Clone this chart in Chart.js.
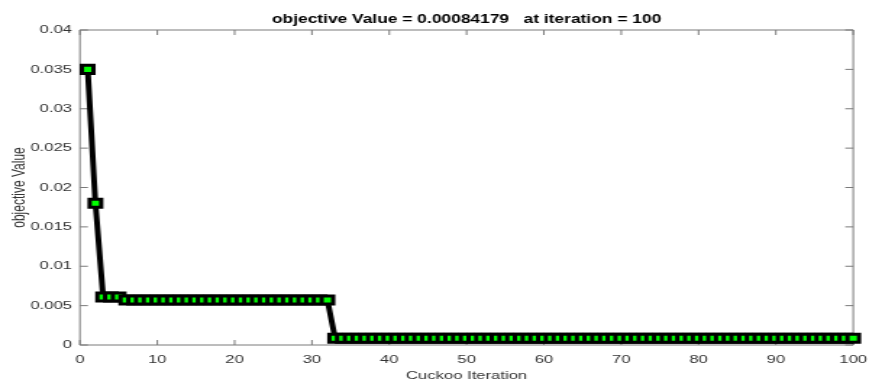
<!DOCTYPE html>
<html>
<head>
<meta charset="utf-8">
<title>Cuckoo search convergence</title>
<script src="https://cdn.jsdelivr.net/npm/chart.js@4.4.1/dist/chart.umd.min.js"></script>
<style>
  html, body { margin: 0; padding: 0; background: #fff; overflow: hidden; }
  /* figure is drawn on a narrower canvas and widened to the window */
  #wrap { width: 600px; height: 383px; transform: scaleX(1.44833); transform-origin: 0 0; }
  canvas { display: block; }
</style>
</head>
<body>
<div id="wrap"><canvas id="chart" width="600" height="383"></canvas></div>
<script>
// Iteration number of each recorded best solution
const iterations = [
  1, 2, 3, 4, 5, 6, 7, 8, 9, 10,
  11, 12, 13, 14, 15, 16, 17, 18, 19, 20,
  21, 22, 23, 24, 25, 26, 27, 28, 29, 30,
  31, 32, 33, 34, 35, 36, 37, 38, 39, 40,
  41, 42, 43, 44, 45, 46, 47, 48, 49, 50,
  51, 52, 53, 54, 55, 56, 57, 58, 59, 60,
  61, 62, 63, 64, 65, 66, 67, 68, 69, 70,
  71, 72, 73, 74, 75, 76, 77, 78, 79, 80,
  81, 82, 83, 84, 85, 86, 87, 88, 89, 90,
  91, 92, 93, 94, 95, 96, 97, 98, 99, 100
];

// Best objective value found so far at each iteration
const objectiveValues = [
  0.035, 0.018, 0.0061, 0.0061, 0.0061, 0.0057, 0.0057, 0.0057, 0.0057, 0.0057,
  0.0057, 0.0057, 0.0057, 0.0057, 0.0057, 0.0057, 0.0057, 0.0057, 0.0057, 0.0057,
  0.0057, 0.0057, 0.0057, 0.0057, 0.0057, 0.0057, 0.0057, 0.0057, 0.0057, 0.0057,
  0.0057, 0.0057, 0.00084179, 0.00084179, 0.00084179, 0.00084179, 0.00084179, 0.00084179, 0.00084179, 0.00084179,
  0.00084179, 0.00084179, 0.00084179, 0.00084179, 0.00084179, 0.00084179, 0.00084179, 0.00084179, 0.00084179, 0.00084179,
  0.00084179, 0.00084179, 0.00084179, 0.00084179, 0.00084179, 0.00084179, 0.00084179, 0.00084179, 0.00084179, 0.00084179,
  0.00084179, 0.00084179, 0.00084179, 0.00084179, 0.00084179, 0.00084179, 0.00084179, 0.00084179, 0.00084179, 0.00084179,
  0.00084179, 0.00084179, 0.00084179, 0.00084179, 0.00084179, 0.00084179, 0.00084179, 0.00084179, 0.00084179, 0.00084179,
  0.00084179, 0.00084179, 0.00084179, 0.00084179, 0.00084179, 0.00084179, 0.00084179, 0.00084179, 0.00084179, 0.00084179,
  0.00084179, 0.00084179, 0.00084179, 0.00084179, 0.00084179, 0.00084179, 0.00084179, 0.00084179, 0.00084179, 0.00084179
];

// Axis tick values
const xTicks = [0, 10, 20, 30, 40, 50, 60, 70, 80, 90, 100];
const yTicks = [0, 0.005, 0.01, 0.015, 0.02, 0.025, 0.03, 0.035, 0.04];

const finalValue = objectiveValues[objectiveValues.length - 1];
const finalIteration = iterations[iterations.length - 1];
const titleText = 'objective Value = ' + finalValue + '   at iteration = ' + finalIteration;
const xTitle = 'Cuckoo Iteration';
const yTitle = 'objective Value';

const FONT = '"Liberation Sans", Arial, Helvetica, sans-serif';
const AXIS_COLOR = '#7a7a7a';
const TEXT_COLOR = '#333333';

const points = iterations.map((it, i) => ({ x: it, y: objectiveValues[i] }));

// Box around the axes with inward tick marks on all four sides
const axesBox = {
  id: 'axesBox',
  beforeDatasetsDraw(chart) {
    const { ctx, chartArea: a, scales: { x, y } } = chart;
    ctx.save();
    ctx.strokeStyle = AXIS_COLOR;
    ctx.lineWidth = 1;
    ctx.beginPath();
    ctx.rect(a.left, a.top, a.right - a.left, a.bottom - a.top);
    xTicks.forEach(v => {
      const px = x.getPixelForValue(v);
      ctx.moveTo(px, a.bottom); ctx.lineTo(px, a.bottom - 5);
      ctx.moveTo(px, a.top); ctx.lineTo(px, a.top + 5);
    });
    yTicks.forEach(v => {
      const py = y.getPixelForValue(v);
      ctx.moveTo(a.left, py); ctx.lineTo(a.left + 5.5, py);
      ctx.moveTo(a.right, py); ctx.lineTo(a.right - 5.5, py);
    });
    ctx.stroke();
    ctx.restore();
  },
  afterDraw(chart) {
    const { ctx, chartArea: a } = chart;
    const cx = (a.left + a.right) / 2;
    const cy = (a.top + a.bottom) / 2;
    ctx.save();
    ctx.textAlign = 'center';
    ctx.textBaseline = 'middle';
    // title
    ctx.fillStyle = '#000000';
    ctx.font = 'bold 12px ' + FONT;
    ctx.fillText(titleText, cx, 19.5);
    // x axis title
    ctx.fillStyle = TEXT_COLOR;
    ctx.font = '11.5px ' + FONT;
    ctx.fillText(xTitle, cx, 375.5);
    // y axis title
    ctx.font = '12px ' + FONT;
    ctx.translate(13.8, cy);
    ctx.rotate(-Math.PI / 2);
    ctx.fillText(yTitle, 0, 0);
    ctx.restore();
  }
};

new Chart(document.getElementById('chart'), {
  type: 'line',
  data: {
    datasets: [{
      data: points,
      borderColor: '#000000',
      borderWidth: 4,
      tension: 0,
      pointStyle: 'rect',
      pointRadius: 5.66,
      pointBorderWidth: 3,
      pointBorderColor: '#000000',
      pointBackgroundColor: '#00ff00',
      pointHoverRadius: 5.66,
      clip: false
    }]
  },
  options: {
    responsive: false,
    animation: false,
    events: [],
    layout: { padding: { top: 30, right: 10.9, bottom: 0, left: 0 } },
    plugins: { legend: { display: false }, tooltip: { enabled: false }, title: { display: false } },
    scales: {
      x: {
        type: 'linear',
        min: 0,
        max: 100,
        afterBuildTicks: s => { s.ticks = xTicks.map(v => ({ value: v })); },
        afterFit: s => { s.height = 38; s.paddingLeft = 0; s.paddingRight = 0; },
        grid: { display: false, drawTicks: false },
        border: { display: false },
        ticks: {
          color: TEXT_COLOR,
          font: { family: FONT, size: 11.5 },
          padding: 7.5,
          maxRotation: 0,
          autoSkip: false,
          callback: v => String(v)
        }
      },
      y: {
        type: 'linear',
        min: 0,
        max: 0.04,
        afterBuildTicks: s => { s.ticks = yTicks.map(v => ({ value: v })); },
        afterFit: s => { s.width = 55.2; s.paddingTop = 0; s.paddingBottom = 0; },
        grid: { display: false, drawTicks: false },
        border: { display: false },
        ticks: {
          color: TEXT_COLOR,
          font: { family: FONT, size: 11.5 },
          padding: 5.5,
          autoSkip: false,
          callback: v => String(+Number(v).toFixed(4))
        }
      }
    }
  },
  plugins: [axesBox]
});
</script>
</body>
</html>
